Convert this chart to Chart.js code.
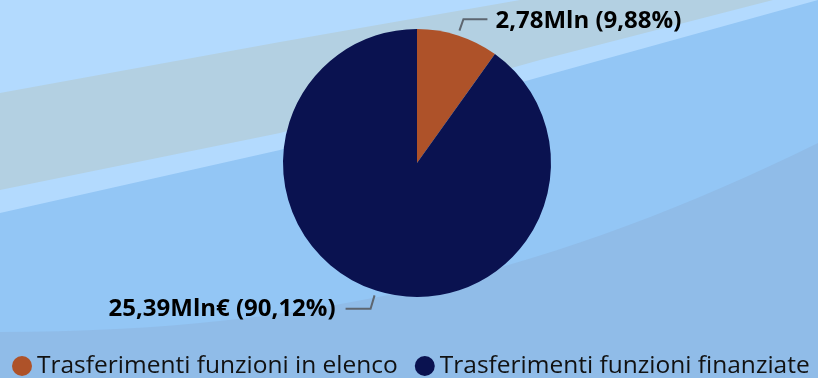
<!DOCTYPE html>
<html>
<head>
<meta charset="utf-8">
<script src="https://cdn.jsdelivr.net/npm/chart.js@4.4.1/dist/chart.umd.min.js"></script>
<style>
  html, body { margin: 0; padding: 0; background: #93c6f5; overflow: hidden; }
  canvas { display: block; }
</style>
</head>
<body>
<canvas id="myChart" width="818" height="378"></canvas>
<script>
const categories = ['Trasferimenti funzioni in elenco', 'Trasferimenti funzioni finanziate'];
const amounts = [2.783, 25.387];   // milioni di euro
const units = ['Mln', 'Mln€'];
const sliceColors = ['#ae5229', '#0a1250'];

const total = amounts.reduce((a, b) => a + b, 0);
const itNum = (v) => v.toFixed(2).replace('.', ',');

// sfondo a fasce ondulate
const waves = {
    id: 'waves',
    beforeDraw(chart) {
        const c = chart.ctx, w = chart.width, h = chart.height;
        c.save();
        c.fillStyle = '#93c6f5';
        c.fillRect(0, 0, w, h);

        c.fillStyle = '#b3dafe';
        c.beginPath();
        c.moveTo(0, 0);
        c.lineTo(0, 213);
        c.lineTo(280, 150);
        c.lineTo(540, 77);
        c.lineTo(w, 0);
        c.closePath();
        c.fill();

        c.fillStyle = '#b3d0e2';
        c.beginPath();
        c.moveTo(0, 93);
        c.lineTo(280, 42);
        c.lineTo(520, 0);
        c.lineTo(773, 0);
        c.lineTo(540, 60);
        c.lineTo(280, 133);
        c.lineTo(0, 190);
        c.closePath();
        c.fill();

        c.fillStyle = '#90bce8';
        c.beginPath();
        c.moveTo(0, 332);
        c.bezierCurveTo(320, 332, 560, 270, w, 143);
        c.lineTo(w, h);
        c.lineTo(0, h);
        c.closePath();
        c.fill();
        c.restore();
    }
};

// etichette con linee guida
const leaders = {
    id: 'leaders',
    afterDatasetsDraw(chart) {
        const c = chart.ctx;
        const meta = chart.getDatasetMeta(0);
        c.save();
        meta.data.forEach((arc, i) => {
            const p = arc.getProps(['x', 'y', 'outerRadius', 'startAngle', 'endAngle'], true);
            const mid = (p.startAngle + p.endAngle) / 2;
            const cos = Math.cos(mid), sin = Math.sin(mid);
            const right = cos >= 0;
            const x0 = p.x + cos * (p.outerRadius + 5), y0 = p.y + sin * (p.outerRadius + 5);
            const x1 = p.x + cos * (p.outerRadius + 18), y1 = p.y + sin * (p.outerRadius + 18) + 1;
            const x2 = x1 + (right ? 24 : -25);

            c.strokeStyle = '#5d6670';
            c.lineWidth = 2;
            c.beginPath();
            c.moveTo(x0, y0);
            c.lineTo(x1, y1);
            c.lineTo(x2, y1);
            c.stroke();

            const pct = itNum(amounts[i] / total * 100);
            const txt = itNum(amounts[i]) + units[i] + ' (' + pct + '%)';
            c.font = 'bold 24px "Open Sans"';
            c.fillStyle = '#000';
            c.textBaseline = 'middle';
            c.textAlign = right ? 'left' : 'right';
            c.fillText(txt, x2 + (right ? 8 : -10), y1 + (right ? 2 : 0));
        });
        c.restore();
    }
};

// legenda in basso
const legendRow = {
    id: 'legendRow',
    afterDraw(chart) {
        const c = chart.ctx;
        c.save();
        c.font = '24.5px "Open Sans"';
        c.textBaseline = 'middle';
        c.textAlign = 'left';
        let x = 12;
        const y = 366;
        categories.forEach((lab, i) => {
            c.fillStyle = sliceColors[i];
            c.beginPath();
            c.arc(x + 10, y, 10, 0, Math.PI * 2);
            c.fill();
            c.fillStyle = '#111';
            c.fillText(lab, x + 25, y);
            x += 25 + c.measureText(lab).width + 17;
        });
        c.restore();
    }
};

const ctx = document.getElementById('myChart');
new Chart(ctx, {
    type: 'pie',
    data: {
        labels: categories,
        datasets: [{
            data: amounts,
            backgroundColor: sliceColors,
            borderWidth: 0
        }]
    },
    options: {
        responsive: false,
        animation: false,
        layout: { padding: { top: 29, bottom: 81, left: 283, right: 267 } },
        plugins: {
            legend: { display: false },
            tooltip: { enabled: false }
        }
    },
    plugins: [waves, leaders, legendRow]
});
</script>
</body>
</html>
